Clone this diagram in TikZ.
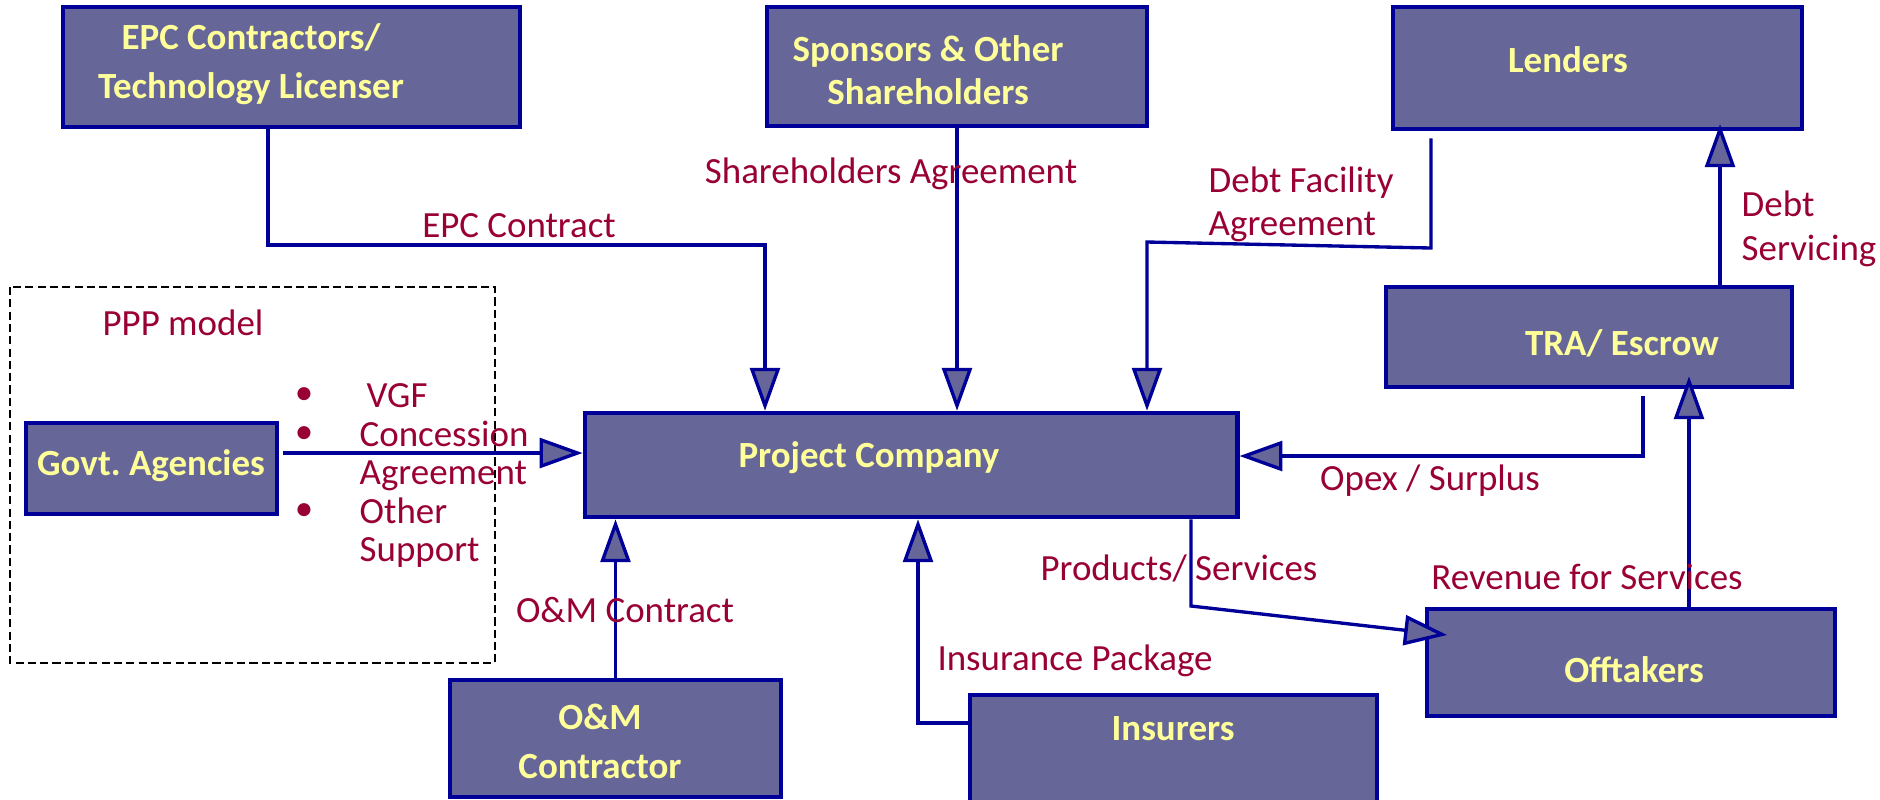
\documentclass[tikz,border=0pt]{standalone}
\usepackage{fontspec}
\setmainfont{Carlito}
\usetikzlibrary{arrows.meta}
\frenchspacing

\definecolor{partyfill}{RGB}{102,102,153}
\definecolor{partyline}{RGB}{0,0,153}
\definecolor{partytext}{RGB}{255,255,153}
\definecolor{flowtext}{RGB}{153,0,51}

\tikzset{
  party/.style={draw=partyline, fill=partyfill, line width=1.3pt, inner sep=0pt},
  partylabel/.style={text=partytext, font=\fontsize{10.5}{13.7}\selectfont\bfseries,
    align=center, anchor=base, inner sep=0pt},
  flow/.style={text=flowtext, anchor=base, inner sep=0pt},
  link/.style={draw=partyline, line width=0.95pt},
}

\begin{document}
\begin{tikzpicture}[>={Triangle[length=12.2pt, width=8.5pt, fill=partyfill]},
    x=0.01cm, y=-0.01cm, font=\fontsize{10.5}{12.2}\selectfont]
  \useasboundingbox (0,0) rectangle (1880,799);

  \draw[line width=0.6pt, dash pattern=on 2.3pt off 1.2pt] (10,287) rectangle (495,663);

  % parties
  \node[party, minimum width=4.57cm, minimum height=1.20cm] (epc) at (291.5,67) {};
  \node[party, minimum width=3.80cm, minimum height=1.19cm] (sponsors) at (957,66.5) {};
  \node[party, minimum width=4.09cm, minimum height=1.22cm] (lenders) at (1597.5,68) {};
  \node[party, minimum width=4.06cm, minimum height=1.00cm] (tra) at (1589,337) {};
  \node[party, minimum width=6.52cm, minimum height=1.04cm] (pc) at (911,465) {};
  \node[party, minimum width=2.51cm, minimum height=0.91cm] (govt) at (151.5,468.5) {};
  \node[party, minimum width=3.31cm, minimum height=1.17cm] (om) at (615.5,738.5) {};
  \node[party, minimum width=4.07cm, minimum height=1.65cm] (insurers) at (1173.5,777.5) {};
  \node[party, minimum width=4.08cm, minimum height=1.07cm] (offtakers) at (1631,662.5) {};

  \node[partylabel] (epc-text) at (251,98) {EPC Contractors/\\Technology Licenser};
  \node[partylabel, font=\fontsize{10.5}{12.2}\selectfont\bfseries] (sponsors-text) at (928,104) {Sponsors \& Other\\Shareholders};
  \node[partylabel] (lenders-text) at (1568,72) {Lenders};
  \node[partylabel] (tra-text) at (1622,355) {TRA/ Escrow};
  \node[partylabel] (pc-text) at (869,467) {Project Company};
  \node[partylabel] (govt-text) at (151,475) {Govt. Agencies};
  \node[partylabel] (om-text) at (600,778) {O\&M\\Contractor};
  \node[partylabel] (insurers-text) at (1173,740) {Insurers};
  \node[partylabel] (offtakers-text) at (1634,682) {Offtakers};

  % agreements and flows
  \coordinate (epc-bend) at (268,245);
  \coordinate (epc-in) at (765,245);
  \draw[link, ->] (epc-bend |- epc.south) -- (epc-bend) -- (epc-in) -- (epc-in |- pc.north);
  \draw[link, ->] (sponsors.south) -- (sponsors.south |- pc.north);
  \coordinate (debt-bend) at (1431,248);
  \coordinate (debt-in) at (1147,242);
  \draw[link, ->, shorten <=2pt] (debt-bend |- lenders.south) -- (debt-bend) -- (debt-in) -- (debt-in |- pc.north);
  \coordinate (govt-out) at (283,453);
  \draw[link, ->] (govt-out) -- (govt-out -| pc.west);
  \draw[link, ->] (om.north) -- (om.north |- pc.south);
  \coordinate (ins-bend) at (918,723);
  \draw[link, ->] (ins-bend -| insurers.west) -- (ins-bend) -- (ins-bend |- pc.south);
  \coordinate (prod-bend) at (1191,606);
  \coordinate (prod-in) at (1447,635);
  \draw[link, ->] (prod-bend |- pc.south) -- (prod-bend) -- (prod-in);
  \coordinate (opex-bend) at (1643,456);
  \draw[link, ->, shorten <=2pt] (opex-bend |- tra.south) -- (opex-bend) -- (opex-bend -| pc.east);
  \coordinate (rev-x) at (1689,607);
  \draw[link, ->, shorten >=-3.7pt] (rev-x) -- (rev-x |- tra.south);
  \coordinate (serv-x) at (1720,287);
  \draw[link, ->, shorten >=-2pt] (serv-x |- tra.north) -- (serv-x |- lenders.south);

  \node[flow] (epc-lbl) at (519,237) {EPC Contract};
  \node[flow] (sha-lbl) at (891,183) {Shareholders Agreement};
  \node[flow, anchor=base west, align=left, font=\fontsize{10.5}{12.2}\selectfont] (debt-lbl) at (1208,235) {Debt Facility\\Agreement};
  \node[flow, anchor=base west, align=left, font=\fontsize{10.5}{12.5}\selectfont] (serv-lbl) at (1741,260) {Debt\\Servicing};
  \node[flow] (ppp-lbl) at (183,335) {PPP model};
  \foreach \y [count=\i] in {404,443,520} {
    \node[flow] (bullet\i) at (304,\y) {•};
  };
  \node[flow, anchor=base west] (vgf-lbl) at (366,407) {VGF};
  \node[flow, anchor=base west, align=left, font=\fontsize{10.5}{10.8}\selectfont] (conc-lbl) at (359,484) {Concession\\Agreement};
  \node[flow, anchor=base west, align=left, font=\fontsize{10.5}{10.6}\selectfont] (other-lbl) at (359,561) {Other\\Support};
  \node[flow] (opex-lbl) at (1430,490) {Opex / Surplus};
  \node[flow] (prod-lbl) at (1179,580) {Products/ Services};
  \node[flow] (rev-lbl) at (1587,589) {Revenue for Services};
  \node[flow] (om-lbl) at (625,622) {O\&M Contract};
  \node[flow] (ins-lbl) at (1075,670) {Insurance Package};
\end{tikzpicture}
\end{document}
